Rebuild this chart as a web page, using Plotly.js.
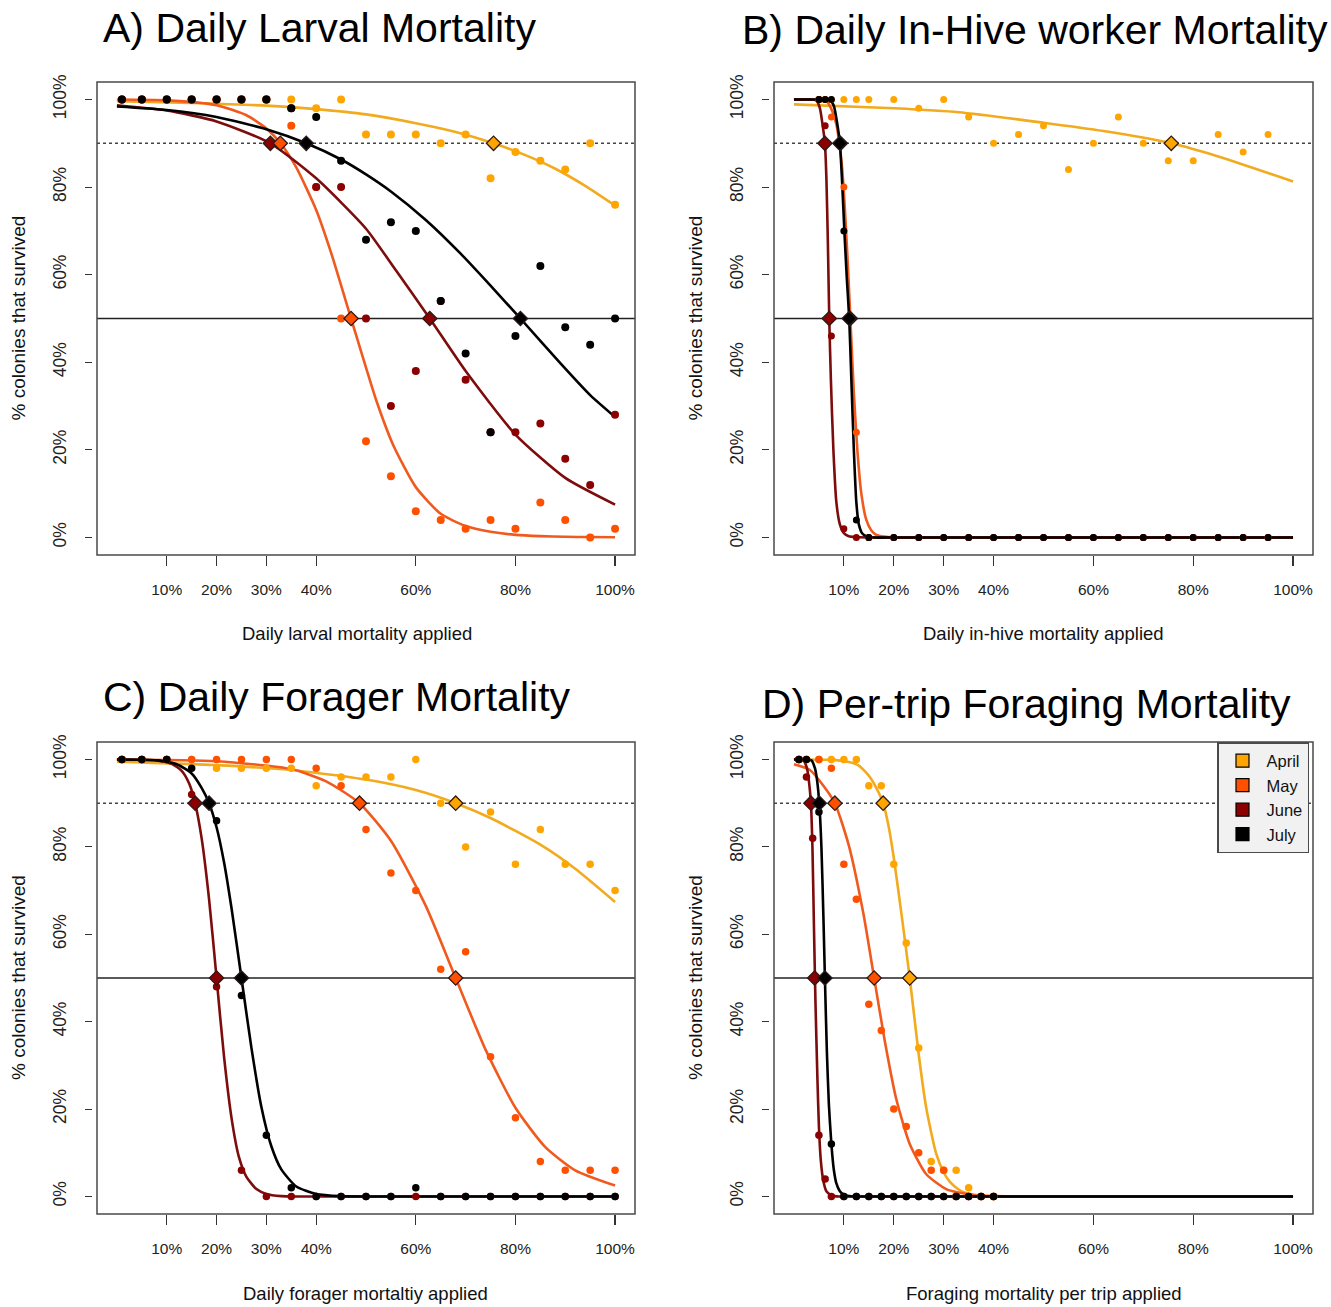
<!DOCTYPE html>
<html>
<head>
<meta charset="utf-8">
<script src="https://cdn.plot.ly/plotly-3.0.1.min.js"></script>
<style>html,body{margin:0;padding:0;background:#fff;}#chart{width:1331px;height:1307px;}</style>
</head>
<body>
<div id="chart"></div>
<script>
// ---------------- categories / labels ----------------
const months = ['April', 'May', 'June', 'July'];
const xTickVals = [10, 20, 30, 40, 60, 80, 100];
const xTickText = ['10%', '20%', '30%', '40%', '60%', '80%', '100%'];
const yTickVals = [0, 20, 40, 60, 80, 100];
const yTickText = ['0%', '20%', '40%', '60%', '80%', '100%'];
const refLevels = [90, 50];
const panelTitles = ['A) Daily Larval Mortality', 'B) Daily In-Hive worker Mortality', 'C) Daily Forager Mortality', 'D) Per-trip Foraging Mortality'];
const xTitles = ['Daily larval mortality applied', 'Daily in-hive mortality applied', 'Daily forager mortaltiy applied', 'Foraging mortality per trip applied'];
const yTitle = '% colonies that survived';

// ---------------- Panel A: larval ----------------
const xA = [1, 5, 10, 15, 20, 25, 30, 35, 40, 45, 50, 55, 60, 65, 70, 75, 80, 85, 90, 95, 100];
const A_April = [100, 100, 100, 100, 100, 100, 100, 100, 98, 100, 92, 92, 92, 90, 92, 82, 88, 86, 84, 90, 76];
const A_May   = [100, 100, 100, 100, 100, 100, 100, 94, 80, 50, 22, 14, 6, 4, 2, 4, 2, 8, 4, 0, 2];
const A_June  = [100, 100, 100, 100, 100, 100, 100, 98, 80, 80, 50, 30, 38, 54, 36, 24, 24, 26, 18, 12, 28];
const A_July  = [100, 100, 100, 100, 100, 100, 100, 98, 96, 86, 68, 72, 70, 54, 42, 24, 46, 62, 48, 44, 50];

const fitA_April_x = [0, 15, 30, 40, 50, 60, 68, 75.6, 82, 88, 94, 100];
const fitA_April_y = [99.6, 99.2, 98.6, 97.8, 96.6, 94.6, 92.6, 90, 87.3, 84.2, 80.3, 75.8];
const fitA_May_x = [0, 10, 20, 26, 30, 33, 36, 40, 43, 47, 50, 52, 55.5, 60, 65, 70, 75, 80, 85, 90, 95, 100];
const fitA_May_y = [100, 99.8, 98.7, 96.4, 93.4, 89.8, 84.5, 74.8, 65, 50, 38.8, 31.5, 21, 11.5, 5.4, 2.6, 1.3, 0.6, 0.3, 0.15, 0.1, 0.05];
const fitA_June_x = [0, 10, 20, 30.8, 40, 50, 56, 62.8, 70, 80, 90, 100];
const fitA_June_y = [98.7, 97.5, 95, 90, 82, 70.5, 61, 50, 38, 23.5, 13.6, 7.5];
const fitA_July_x = [0, 10, 20, 30, 38, 45, 50, 55, 62, 69, 75, 81, 89, 95, 100];
const fitA_July_y = [98.4, 97.6, 96, 93.2, 90, 86.3, 82.9, 79, 72.5, 64.8, 57.5, 50, 39.8, 32.5, 27.5];

const A_ec90 = [75.6, 32.8, 30.8, 38];
const A_ec50 = [null, 47, 62.8, 81];

// ---------------- Panel B: in-hive ----------------
const xB = [5, 6.25, 7.5, 10, 12.5, 15, 20, 25, 30, 35, 40, 45, 50, 55, 60, 65, 70, 75, 80, 85, 90, 95];
const B_April = [100, 100, 100, 100, 100, 100, 100, 98, 100, 96, 90, 92, 94, 84, 90, 96, 90, 86, 86, 92, 88, 92];
const B_May   = [100, 100, 96, 80, 24, 0, 0, 0, 0, 0, 0, 0, 0, 0, 0, 0, 0, 0, 0, 0, 0, 0];
const B_June  = [100, 94, 46, 2, 0, 0, 0, 0, 0, 0, 0, 0, 0, 0, 0, 0, 0, 0, 0, 0, 0, 0];
const B_July  = [100, 100, 100, 70, 4, 0, 0, 0, 0, 0, 0, 0, 0, 0, 0, 0, 0, 0, 0, 0, 0, 0];

const fitB_April_x = [0, 20, 33, 50, 62, 75.6, 85, 100];
const fitB_April_y = [98.9, 98, 97.1, 94.7, 92.8, 90, 87, 81.3];
const fitB_May_x = [0, 4, 6.5, 7.5, 8.5, 9.1, 9.6, 10.1, 10.7, 11.3, 12, 12.7, 13.5, 14.5, 15.5, 16.5, 18, 20, 30, 45, 60, 80, 100];
const fitB_May_y = [100, 100, 99.6, 97.8, 94.3, 90, 85, 77, 64.5, 50, 33, 20, 10, 4, 1.6, 0.6, 0.2, 0, 0, 0, 0, 0, 0];
const fitB_June_x = [0, 3, 4.5, 5.2, 5.7, 6.2, 6.5, 6.8, 7.07, 7.4, 7.9, 8.5, 9.2, 10, 11, 12.5, 15, 20, 30, 45, 60, 80, 100];
const fitB_June_y = [100, 100, 99.8, 98, 94.5, 90, 82, 67, 50, 36, 20, 8, 3, 1, 0.3, 0.1, 0, 0, 0, 0, 0, 0, 0];
const fitB_July_x = [0, 4, 7.3, 8, 8.6, 9.2, 9.7, 10.1, 10.6, 11.07, 11.5, 12, 12.5, 13, 13.7, 14.5, 16, 20, 30, 45, 60, 80, 100];
const fitB_July_y = [100, 100, 99.8, 98.5, 95, 90, 80, 70, 59, 50, 36, 20, 8, 3, 0.9, 0.3, 0, 0, 0, 0, 0, 0, 0];

const B_ec90 = [75.6, 9.3, 6.2, 9.2];
const B_ec50 = [null, 11.3, 7.07, 11.07];

// ---------------- Panel C: forager ----------------
const xC = [1, 5, 10, 15, 20, 25, 30, 35, 40, 45, 50, 55, 60, 65, 70, 75, 80, 85, 90, 95, 100];
const C_April = [100, 100, 100, 100, 98, 98, 98, 98, 94, 96, 96, 96, 100, 90, 80, 88, 76, 84, 76, 76, 70];
const C_May   = [100, 100, 100, 100, 100, 100, 100, 100, 98, 94, 84, 74, 70, 52, 56, 32, 18, 8, 6, 6, 6];
const C_June  = [100, 100, 100, 92, 48, 6, 0, 0, 0, 0, 0, 0, 0, 0, 0, 0, 0, 0, 0, 0, 0];
const C_July  = [100, 100, 100, 98, 86, 46, 14, 2, 0, 0, 0, 0, 2, 0, 0, 0, 0, 0, 0, 0, 0];

const fitC_April_x = [0, 20, 35, 50, 60, 68, 75, 85, 92, 100];
const fitC_April_y = [99.5, 98.7, 97.6, 95.4, 93, 90, 86.6, 80.5, 75, 67.4];
const fitC_May_x = [0, 20, 35, 42, 48.7, 55, 62, 68, 74, 80, 86, 92, 100];
const fitC_May_y = [100, 99.6, 97.8, 95, 90, 81.4, 66.5, 50, 33.6, 20.3, 11.3, 6, 2.5];
const fitC_June_x = [0, 8, 11, 13, 14.5, 15.7, 17, 18.5, 20, 21.5, 23, 24.5, 26, 28, 30, 33, 36, 40, 50, 60, 70, 80, 90, 100];
const fitC_June_y = [100, 99.8, 99, 97.4, 94.5, 90, 82, 68, 50, 32, 18, 9, 4.5, 1.7, 0.6, 0.1, 0, 0, 0, 0, 0, 0, 0, 0];
const fitC_July_x = [0, 8, 12, 15, 17, 18.5, 20, 21.5, 23, 25, 27, 29, 31, 33, 36, 40, 45, 50, 60, 70, 80, 90, 100];
const fitC_July_y = [100, 99.8, 98.9, 96.8, 93.5, 90, 84.5, 76.5, 66, 50, 34, 20.5, 11.5, 6.2, 2.3, 0.6, 0.1, 0, 0, 0, 0, 0, 0];

const C_ec90 = [68, 48.7, 15.7, 18.5];
const C_ec50 = [null, 68, 20, 25];

// ---------------- Panel D: per-trip ----------------
const xD = [1, 2.5, 3.75, 5, 6.25, 7.5, 10, 12.5, 15, 17.5, 20, 22.5, 25, 27.5, 30, 32.5, 35, 37.5, 40];
const D_April = [100, 100, null, 100, null, 100, 100, 100, 94, 94, 76, 58, 34, 8, 6, 6, 2, 0, 0];
const D_May   = [100, 100, null, 100, null, 98, 76, 68, 44, 38, 20, 16, 10, 6, 6, 0, 0, 0, 0];
const D_June  = [100, 96, 82, 14, 4, 0, 0, 0, 0, 0, 0, 0, 0, 0, 0, 0, 0, 0, 0];
const D_July  = [100, 100, null, 88, 50, 12, 0, 0, 0, 0, 0, 0, 0, 0, 0, 0, 0, 0, 0];

const fitD_April_x = [0, 8, 11, 13, 15.2, 16.5, 17.87, 19, 20, 21.5, 23.2, 25, 26.5, 28.5, 30, 31.2, 33, 34.5, 37.5, 40, 45, 50, 60, 70, 80, 90, 100];
const fitD_April_y = [100, 99.9, 99.4, 98.6, 96, 93.5, 90, 84.5, 77.5, 65, 50, 32.5, 20.3, 9.8, 5.5, 3.4, 1.6, 0.8, 0.2, 0.05, 0, 0, 0, 0, 0, 0, 0];
const fitD_May_x = [0, 3.2, 5.9, 8.2, 11, 13.9, 16.07, 18.2, 20.5, 23.2, 26.5, 30.5, 33, 36, 40, 45, 50, 60, 70, 80, 90, 100];
const fitD_May_y = [98.9, 97.6, 94, 90, 80.3, 64.8, 50, 35.6, 22.3, 12, 5.1, 1.7, 0.9, 0.3, 0.1, 0, 0, 0, 0, 0, 0, 0];
const fitD_June_x = [0, 1.9, 2.6, 3.0, 3.4, 3.7, 4.0, 4.3, 4.7, 5.0, 5.4, 5.9, 6.5, 7.5, 9, 12, 20, 40, 60, 80, 100];
const fitD_June_y = [100, 99.8, 98, 95, 90, 80, 62, 45, 27, 16, 8, 3.5, 1.2, 0.3, 0, 0, 0, 0, 0, 0, 0];
const fitD_July_x = [0, 3.5, 4.2, 4.6, 5.07, 5.5, 5.9, 6.2, 6.6, 7.0, 7.5, 8, 8.5, 9.2, 9.9, 11, 13, 20, 40, 60, 80, 100];
const fitD_July_y = [100, 99.8, 98, 95.5, 90, 80, 64, 50, 33, 21, 12, 6, 3, 1.2, 0.5, 0.1, 0, 0, 0, 0, 0, 0];

const D_ec90 = [17.87, 8.2, 3.4, 5.07];
const D_ec50 = [23.2, 16.07, 4.15, 6.2];

// ---------------- styles ----------------
const pointColors = {April: '#FFA500', May: '#FF5000', June: '#8B0000', July: '#000000'};
const lineColors  = {April: '#F2AA1F', May: '#F05A1E', June: '#7D0C0C', July: '#000000'};
const FONT = 'Liberation Sans, Arial, Helvetica, sans-serif';

const panels = [
  {x: xA, pts: [A_April, A_May, A_June, A_July],
   fx: [fitA_April_x, fitA_May_x, fitA_June_x, fitA_July_x], fy: [fitA_April_y, fitA_May_y, fitA_June_y, fitA_July_y],
   ec90: A_ec90, ec50: A_ec50, ptSize: 8},
  {x: xB, pts: [B_April, B_May, B_June, B_July],
   fx: [fitB_April_x, fitB_May_x, fitB_June_x, fitB_July_x], fy: [fitB_April_y, fitB_May_y, fitB_June_y, fitB_July_y],
   ec90: B_ec90, ec50: B_ec50, ptSize: 7},
  {x: xC, pts: [C_April, C_May, C_June, C_July],
   fx: [fitC_April_x, fitC_May_x, fitC_June_x, fitC_July_x], fy: [fitC_April_y, fitC_May_y, fitC_June_y, fitC_July_y],
   ec90: C_ec90, ec50: C_ec50, ptSize: 7.5},
  {x: xD, pts: [D_April, D_May, D_June, D_July],
   fx: [fitD_April_x, fitD_May_x, fitD_June_x, fitD_July_x], fy: [fitD_April_y, fitD_May_y, fitD_June_y, fitD_July_y],
   ec90: D_ec90, ec50: D_ec50, ptSize: 7.5}
];

const W = 1331, H = 1307;
// plot boxes in pixels [left, right, top, bottom]
const boxes = [[97, 635, 82, 555], [774, 1313, 82, 555], [97, 635, 742, 1214], [774, 1313, 742, 1214]];
const xTitleCenters = [357, 1043.5, 365.5, 1044];
const xTitleRows = [633, 633, 1293, 1293];

const traces = [];
const layout = {
  width: W, height: H,
  margin: {l: 0, r: 0, t: 0, b: 0},
  paper_bgcolor: '#ffffff', plot_bgcolor: '#ffffff',
  font: {family: FONT, color: '#222'},
  showlegend: true,
  legend: {
    x: 1217 / W, y: 1 - 742 / H, xanchor: 'left', yanchor: 'top',
    bgcolor: '#f1f1f1', bordercolor: '#4a4a4a', borderwidth: 1.5,
    font: {size: 16.5, family: FONT, color: '#111'},
    tracegroupgap: 0, itemwidth: 38
  },
  shapes: [], annotations: []
};

panels.forEach((p, i) => {
  const n = i + 1;
  const sfx = (n === 1 ? '' : String(n));
  const xa = 'x' + sfx, ya = 'y' + sfx;
  const b = boxes[i];
  layout['xaxis' + sfx] = {
    domain: [b[0] / W, b[1] / W], range: [-4, 104], anchor: ya,
    tickmode: 'array', tickvals: xTickVals, ticktext: xTickText,
    ticks: 'outside', ticklen: 10, tickwidth: 1.2, tickcolor: '#333',
    showline: false, showgrid: false, zeroline: false,
    tickfont: {size: 15.5, family: FONT, color: '#222'}, ticklabelstandoff: 10,
    fixedrange: true
  };
  layout['yaxis' + sfx] = {
    domain: [1 - b[3] / H, 1 - b[2] / H], range: [-4, 104], anchor: 'free', position: (b[0] - 5) / W,
    tickmode: 'array', tickvals: yTickVals, ticktext: yTickText,
    ticks: 'outside', ticklen: 7, tickwidth: 1.2, tickcolor: '#333',
    tickangle: -90, ticklabelstandoff: 12,
    showline: false, showgrid: false, zeroline: false,
    tickfont: {size: 17.5, family: FONT, color: '#222'},
    fixedrange: true
  };
  // frame
  layout.shapes.push({type: 'rect', xref: xa + ' domain', yref: ya + ' domain', x0: 0, x1: 1, y0: 0, y1: 1,
    line: {color: '#4a4a4a', width: 1.5}, layer: 'above'});
  // reference levels
  refLevels.forEach((lv, k) => {
    layout.shapes.push({type: 'line', xref: xa + ' domain', yref: ya, x0: 0, x1: 1, y0: lv, y1: lv,
      line: {color: k === 0 ? '#444' : '#222', width: k === 0 ? 1.4 : 1.5, dash: k === 0 ? 'dot' : 'solid'}, layer: 'below'});
  });
  // fitted curves
  months.forEach((m, k) => {
    traces.push({type: 'scatter', mode: 'lines', x: p.fx[k], y: p.fy[k], xaxis: xa, yaxis: ya,
      line: {color: lineColors[m], width: 2.6, shape: 'spline', smoothing: 0.6}, showlegend: false, hoverinfo: 'skip'});
  });
  // observed points
  months.forEach((m, k) => {
    traces.push({type: 'scatter', mode: 'markers', x: p.x, y: p.pts[k], xaxis: xa, yaxis: ya,
      marker: {color: pointColors[m], size: p.ptSize, line: {width: 0}}, showlegend: false, name: m});
  });
  // EC90 / EC50 diamonds
  [0, 2, 1, 3].forEach(k => {
    const m = months[k];
    const dx = [], dy = [];
    if (p.ec90[k] !== null) { dx.push(p.ec90[k]); dy.push(refLevels[0]); }
    if (p.ec50[k] !== null) { dx.push(p.ec50[k]); dy.push(refLevels[1]); }
    traces.push({type: 'scatter', mode: 'markers', x: dx, y: dy, xaxis: xa, yaxis: ya,
      marker: {symbol: 'diamond', color: pointColors[m], size: 11, line: {color: '#2a1a1a', width: 1.3}},
      showlegend: false, name: m});
  });
  // axis titles
  layout.annotations.push({text: xTitles[i], xref: 'paper', yref: 'paper', x: xTitleCenters[i] / W, y: 1 - xTitleRows[i] / H,
    xanchor: 'center', yanchor: 'middle', showarrow: false, font: {size: 18.5, family: FONT, color: '#111'}});
  layout.annotations.push({text: yTitle, xref: 'paper', yref: 'paper', x: (b[0] - 79) / W, y: 1 - ((b[2] + b[3]) / 2) / H,
    xanchor: 'center', yanchor: 'middle', textangle: -90, showarrow: false, font: {size: 19, family: FONT, color: '#111'}});
});

const titlePos = [[101, 28], [740, 30], [101, 697], [760, 704]];
panelTitles.forEach((t, i) => {
  layout.annotations.push({text: t, xref: 'paper', yref: 'paper', x: titlePos[i][0] / W, y: 1 - titlePos[i][1] / H,
    xanchor: 'left', yanchor: 'middle', showarrow: false, font: {size: 41, family: FONT, color: '#000'}});
});

// legend entries
months.forEach(m => {
  traces.push({type: 'scatter', mode: 'markers', x: [null], y: [null], xaxis: 'x4', yaxis: 'y4', name: m,
    marker: {symbol: 'square', size: 13, color: pointColors[m], line: {color: '#000', width: 1.2}}, showlegend: true});
});

Plotly.newPlot('chart', traces, layout, {displayModeBar: false, staticPlot: true});
</script>
</body>
</html>
